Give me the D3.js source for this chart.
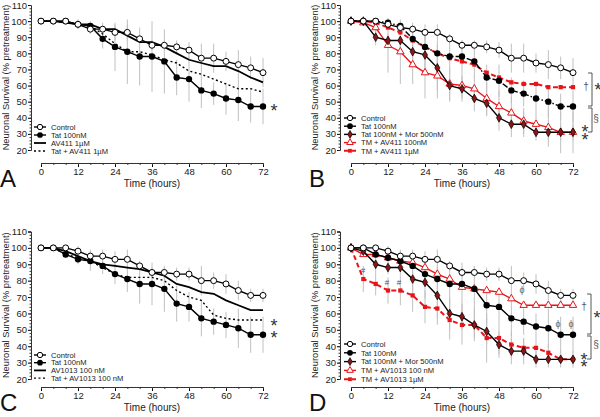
<!DOCTYPE html>
<html><head><meta charset="utf-8">
<script src="https://cdn.jsdelivr.net/npm/d3@7/dist/d3.min.js"></script>
<style>body{margin:0;background:#fff}svg{display:block}text{font-family:"Liberation Sans",Arial,sans-serif}</style>
</head><body><svg id="c" width="600" height="417"></svg>
<script>
const hours = [0,4,8,12,16,20,24,28,32,36,40,44,48,52,56,60,64,68,72];
const xTicks = [0,12,24,36,48,60,72];
const yTicks = [20,30,40,50,60,70,80,90,100,110];

// Panel A
const A_control = [100,100,100,98,95,95,93,93,89,85,85,84,82,77,77,75,73,71,68];
const A_controlErr = [0,0,0,3,3,4,5,5,3,3,3,4,5,9,9,6,9,7,9];
const A_tat = [100,100,100,98,97,89,84,81,78,78,75,65,64,57,55,52,51,47,47];
const A_tatErr = [0,0,0,3,3,6,15,20,18,22,20,11,14,11,7,10,13,10,11];
const A_av = [100,100,99,98,98,95,95,91,87,87,84,80,76,74,72,72,69,65,62];
const A_tatAv = [100,100,99,98,97,92,86,81,81,79,76,74,69,67,64,61,58,58,56];

// Panel B
const B_control = [100,100,100,98,96,95,93,93,89,85,85,84,82,77,77,74,73,71,68];
const B_controlErr = [0,0,0,3,3,4,5,5,3,3,3,4,5,9,9,6,9,7,9];
const B_tat = [100,100,100,99,97,89,84,80,78,78,75,65,63,57,55,52,50,47,47];
const B_tatErr = [0,0,0,2,3,5,8,8,10,10,10,8,10,8,8,8,10,8,10];
const B_tatMor = [100,100,90,88,88,81,79,71,60,58,52,49,40,36,36,31,31,31,31];
const B_tatMorErr = [0,2,5,4,6,8,12,14,10,8,8,8,8,8,8,5,5,5,5];
const B_av100 = [100,99,96,85,81,73,68,66,61,60,58,52,47,43,38,36,34,31,31];
const B_av100Err = [0,2,4,17,20,12,16,14,10,8,8,10,10,10,8,8,12,13,13];
const B_av1 = [100,100,99,96,93,88,84,80,77,75,73,68,65,62,61,61,59,59,59];

// Panel C
const C_control = [100,100,100,98,95,95,93,93,89,85,85,84,84,80,80,78,74,71,71];
const C_controlErr = [0,0,0,3,4,4,5,6,3,3,3,4,4,9,5,6,6,4,4];
const C_tat = [100,100,96,93,92,89,84,81,78,78,75,66,64,57,55,53,51,47,47];
const C_tatErr = [0,0,2,3,6,5,6,8,12,13,14,11,9,11,8,8,12,11,11];
const C_av = [100,100,98,95,92,90,89,88,87,85,83,78,76,73,72,68,65,62,62];
const C_tatAv = [100,100,96,94,92,88,84,82,82,82,80,74,70,68,59,57,56,56,56];

// Panel D
const D_control = [100,100,100,98,95,95,93,93,89,85,85,84,84,80,80,78,74,71,71];
const D_controlErr = [0,0,0,3,4,4,5,6,3,3,3,4,4,9,5,6,6,4,4];
const D_tat = [100,100,96,94,92,89,84,81,78,78,75,65,64,57,55,52,51,47,47];
const D_tatErr = [0,0,2,3,6,5,6,8,12,13,14,11,9,11,8,8,12,11,11];
const D_tatMor = [100,98,90,88,88,81,79,71,60,58,53,49,41,37,37,32,32,32,32];
const D_tatMorErr = [0,2,5,4,5,8,10,14,10,8,8,8,8,8,8,5,5,5,5];
const D_av100 = [100,96,96,94,92,91,88,84,81,76,75,74,73,69,65,65,65,65,65];
const D_av1 = [100,81,78,74,74,71,64,63,56,53,53,45,45,41,39,39,36,32,32];
const D_av1Err = [0,8,7,8,9,10,10,10,12,12,10,15,10,8,6,5,5,3,3];

const svg = d3.select("#c");

function drawPanel(p) {
  const g = svg.append("g");
  const x = d3.scaleLinear().domain([0,72]).range([p.x0, p.x0+222]);
  const y = d3.scaleLinear().domain([20,110]).range([p.yBottom, p.yTop]);

  const ya = g.append("g").attr("transform",`translate(${p.yAxisX},0)`)
    .call(d3.axisLeft(y).tickValues(yTicks).tickSize(3).tickPadding(1));
  ya.selectAll("text").attr("font-size",9.5).attr("fill","#222");
  ya.select(".domain").attr("stroke","#333");
  ya.append("g").call(d3.axisLeft(y).tickValues(d3.range(20,111,2)).tickSize(1.5).tickFormat(""))
    .call(s=>s.select(".domain").remove()).selectAll("line").attr("stroke","#333");
  const xa = g.append("g").attr("transform",`translate(0,${p.xAxisY})`)
    .call(d3.axisBottom(x).tickValues(xTicks).tickSize(4).tickPadding(1.5).tickSizeOuter(0));
  xa.selectAll("text").attr("font-size",9.5).attr("fill","#222");
  xa.select(".domain").attr("stroke","#333");
  xa.append("g").call(d3.axisBottom(x).tickValues(hours).tickSize(2).tickFormat(""))
    .call(s=>s.select(".domain").remove()).selectAll("line").attr("stroke","#333");

  g.append("text").attr("x", x(36)).attr("y", p.xAxisY+24).attr("text-anchor","middle")
    .attr("font-size",10).attr("fill","#222").text("Time (hours)");
  g.append("text").attr("transform",`translate(${p.yAxisX-22},${(p.yTop+p.yBottom)/2}) rotate(-90)`)
    .attr("text-anchor","middle").attr("font-size",9.3).attr("fill","#222").text("Neuronal Survival (% pretreatment)");
  g.append("text").attr("x", p.yAxisX-31).attr("y", p.xAxisY+24).attr("font-size",24).attr("fill","#111").text(p.letter);

  p.series.forEach(s => {
    if (!s.err) return;
    g.append("g").selectAll("line").data(hours.map((h,i)=>({h,v:s.vals[i],e:s.err[i]})).filter(d=>d.e>0))
      .join("line").attr("x1",d=>x(d.h)).attr("x2",d=>x(d.h))
      .attr("y1",d=>y(d.v-d.e)).attr("y2",d=>y(d.v+d.e))
      .attr("stroke","#c0c0c0").attr("stroke-width",1);
  });
  const line = d3.line().x((d,i)=>x(hours[i])).y(d=>y(d));
  p.series.slice().reverse().forEach(s => {
    g.append("path").attr("d", line(s.vals)).attr("fill","none")
      .attr("stroke", s.color).attr("stroke-width", s.width||1.4)
      .attr("stroke-dasharray", s.dash||null);
    if (s.marker) drawMarkers(g, s, hours.map((h,i)=>[x(h), y(s.vals[i])]));
  });

  p.series.forEach((s,i) => {
    const ly = p.legY + i*p.legStep;
    g.append("line").attr("x1",p.legX-6).attr("x2",p.legX+6).attr("y1",ly).attr("y2",ly)
      .attr("stroke",s.color).attr("stroke-width", s.width||1.4).attr("stroke-dasharray", s.legDash||s.dash||null);
    if (s.marker) drawMarkers(g, s, [[p.legX, ly]], 0.8);
    g.append("text").attr("x",p.legX+11).attr("y",ly+2.7).attr("font-size",7.6).attr("fill","#222").text(s.name);
  });
}

function drawMarkers(g, s, pts, k) {
  k = k || 1;
  const sel = g.append("g").selectAll("path").data(pts).join("path")
    .attr("transform", d=>`translate(${d[0]},${d[1]})`);
  if (s.marker === "openCircle") sel.attr("d", d3.symbol(d3.symbolCircle, 28*k)()).attr("fill","#fff").attr("stroke","#000").attr("stroke-width",1);
  if (s.marker === "circle") sel.attr("d", d3.symbol(d3.symbolCircle, 32*k)()).attr("fill","#000");
  if (s.marker === "diamond") sel.attr("d", d3.symbol(d3.symbolDiamond, 22*k)()).attr("fill","#8b1518").attr("stroke","#000").attr("stroke-width",0.7);
  if (s.marker === "triangle") sel.attr("d", d3.symbol(d3.symbolTriangle, 24*k)()).attr("fill","#fff").attr("stroke","#e8141a").attr("stroke-width",1);
  if (s.marker === "square") sel.attr("d", d3.symbol(d3.symbolSquare, 18*k)()).attr("fill","#e8141a");
}

const RED = "#e8141a";

drawPanel({letter:"A", x0:41, yAxisX:31, yTop:5, yBottom:150, xAxisY:163, legX:40, legY:127, legStep:8,
  series:[
    {name:"Control", vals:A_control, err:A_controlErr, color:"#000", marker:"openCircle"},
    {name:"Tat 100nM", vals:A_tat, err:A_tatErr, color:"#000", marker:"circle"},
    {name:"AV411 1µM", vals:A_av, color:"#000", width:1.8},
    {name:"Tat + AV411 1µM", vals:A_tatAv, color:"#000", dash:"2,2.5", width:1.4}
  ]});
drawPanel({letter:"B", x0:351, yAxisX:340, yTop:5, yBottom:150, xAxisY:163, legX:350, legY:118, legStep:8.2,
  series:[
    {name:"Control", vals:B_control, err:B_controlErr, color:"#000", marker:"openCircle"},
    {name:"Tat 100nM", vals:B_tat, err:B_tatErr, color:"#000", marker:"circle", dash:"6,2,1.5,2", legDash:"none"},
    {name:"Tat 100nM + Mor 500nM", vals:B_tatMor, err:B_tatMorErr, color:"#000", marker:"diamond"},
    {name:"TM + AV411 100nM", vals:B_av100, err:B_av100Err, color:RED, marker:"triangle"},
    {name:"TM + AV411 1µM", vals:B_av1, color:RED, marker:"square", dash:"5,3", width:2}
  ]});
drawPanel({letter:"C", x0:41, yAxisX:31, yTop:231.5, yBottom:379, xAxisY:387, legX:40, legY:355, legStep:7.7,
  series:[
    {name:"Control", vals:C_control, err:C_controlErr, color:"#000", marker:"openCircle"},
    {name:"Tat 100nM", vals:C_tat, err:C_tatErr, color:"#000", marker:"circle"},
    {name:"AV1013 100 nM", vals:C_av, color:"#000", width:1.8},
    {name:"Tat + AV1013 100 nM", vals:C_tatAv, color:"#000", dash:"2,2.5", width:1.4}
  ]});
drawPanel({letter:"D", x0:351, yAxisX:340, yTop:231.5, yBottom:379, xAxisY:387, legX:350, legY:344, legStep:8.8,
  series:[
    {name:"Control", vals:D_control, err:D_controlErr, color:"#000", marker:"openCircle"},
    {name:"Tat 100nM", vals:D_tat, err:D_tatErr, color:"#000", marker:"circle"},
    {name:"Tat 100nM + Mor 500nM", vals:D_tatMor, err:D_tatMorErr, color:"#000", marker:"diamond"},
    {name:"TM + AV1013 100 nM", vals:D_av100, color:RED, marker:"triangle"},
    {name:"TM + AV1013 1µM", vals:D_av1, err:D_av1Err, color:RED, marker:"square", dash:"5,3", width:2}
  ]});

// annotations
function txt(x,y,t,size,color){return svg.append("text").attr("x",x).attr("y",y).attr("text-anchor","middle")
  .attr("font-size",size).attr("fill",color||"#333").text(t);}
// stacked asterisks as one text with tspans (center y values given)
function stars(x, ys, size){
  const t = svg.append("text").attr("x",x).attr("text-anchor","middle").attr("font-size",size).attr("fill","#333");
  ys.forEach((yc,i)=>t.append("tspan").attr("x",x).attr(i? "dy":"y", i? ys[i]-ys[i-1] : yc+size*0.55).text("*"));
}
function bracket(x,y1,y2){svg.append("path").attr("d",`M${x-4},${y1}H${x}V${y2}H${x-4}`).attr("fill","none").attr("stroke","#444").attr("stroke-width",0.9);}
stars(274,[107],18);
// B
bracket(592,73,106); stars(598,[86],18); txt(586,90,"†",10,"#555");
bracket(592,108,132); txt(596,122,"§",10,"#555"); stars(585,[128,136],18);
// C
stars(274,[322,334],18);
// D
bracket(591,294,334); stars(597,[314],18); txt(584,310,"†",10,"#555");
bracket(591,336,359); txt(596,348,"§",10,"#555"); stars(584,[356,363],18);
txt(363,273,"#",8,"#555"); txt(387,285,"#",8,"#555"); txt(399,285,"#",8,"#555");
txt(522,293,"ϕ",9,"#666"); txt(558,327,"ϕ",9,"#666"); txt(571,327,"ϕ",9,"#666");
</script></body></html>
